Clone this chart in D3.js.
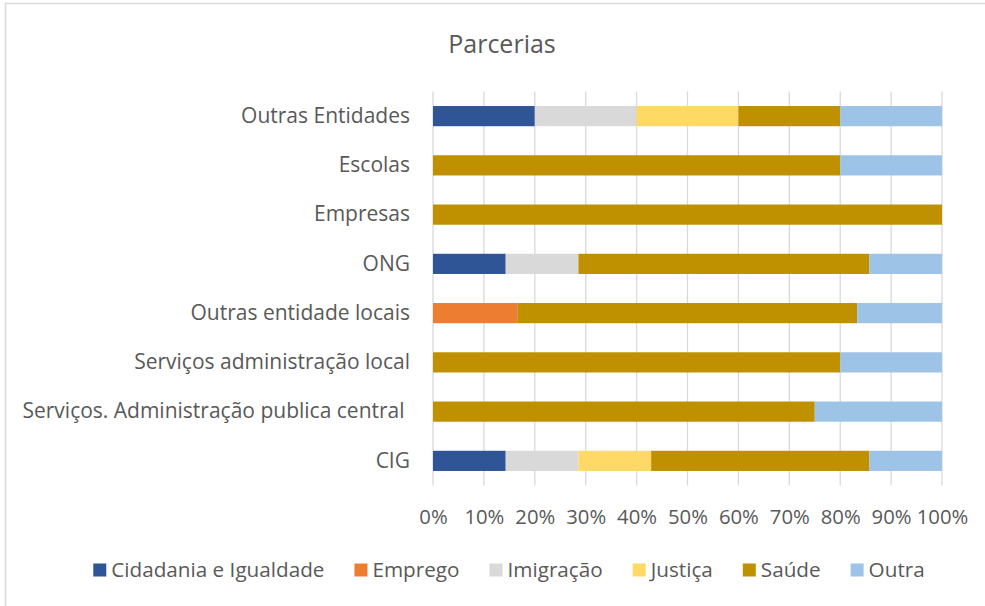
<!DOCTYPE html>
<html>
<head>
<meta charset="utf-8">
<script src="https://cdn.jsdelivr.net/npm/d3@7"></script>
<style>
  html, body { margin: 0; padding: 0; background: #fff; }
  svg { display: block; font-family: "Open Sans", Lato, sans-serif; }
  svg text { white-space: pre; }
</style>
</head>
<body>
<svg id="chart" width="985" height="606"></svg>
<script>
// Partnerships by type of entity, counted per area of intervention
const categories = [
  "CIG",
  "Serviços. Administração publica central ",
  "Serviços administração local",
  "Outras entidade locais",
  "ONG",
  "Empresas",
  "Escolas",
  "Outras Entidades"
];
const seriesNames = ["Cidadania e Igualdade", "Emprego", "Imigração", "Justiça", "Saúde", "Outra"];
const seriesColors = ["#2F5597", "#ED7D31", "#D9D9D9", "#FFD966", "#BF9000", "#9DC3E6"];

const cidadania = [1, 0, 0, 0, 1, 0, 0, 1];
const emprego   = [0, 0, 0, 1, 0, 0, 0, 0];
const imigracao = [1, 0, 0, 0, 1, 0, 0, 1];
const justica   = [1, 0, 0, 0, 0, 0, 0, 1];
const saude     = [3, 3, 4, 4, 4, 1, 4, 1];
const outra     = [1, 1, 1, 1, 1, 0, 1, 1];

const tickValues = [0, 0.1, 0.2, 0.3, 0.4, 0.5, 0.6, 0.7, 0.8, 0.9, 1];

const seriesValues = [cidadania, emprego, imigracao, justica, saude, outra];
const rows = categories.map((c, i) => {
  const r = { category: c };
  seriesNames.forEach((s, j) => { r[s] = seriesValues[j][i]; });
  return r;
});

const stacked = d3.stack()
  .keys(seriesNames)
  .offset(d3.stackOffsetExpand)(rows);

const svg = d3.select("#chart");
const textColor = "#595959";
const fontFamily = "'Open Sans', Lato, sans-serif";

// chart frame
svg.append("rect")
  .attr("x", 5.5).attr("y", 3.5)
  .attr("width", 990).attr("height", 610)
  .attr("fill", "none").attr("stroke", "#D9D9D9").attr("stroke-width", 1.5);

const plotLeft = 433, plotRight = 942, plotTop = 91.5, plotBottom = 485.5;

const x = d3.scaleLinear().domain([0, 1]).range([plotLeft, plotRight]);
const y = d3.scaleBand()
  .domain(categories.slice().reverse())
  .range([plotTop, plotBottom])
  .paddingInner(0.59).paddingOuter(0.295);

// title
svg.append("text")
  .attr("x", 502).attr("y", 53)
  .attr("text-anchor", "middle")
  .attr("font-size", 25).attr("fill", textColor)
  .text("Parcerias");

// vertical gridlines
svg.append("g")
  .selectAll("line")
  .data(tickValues)
  .join("line")
  .attr("x1", d => x(d)).attr("x2", d => x(d))
  .attr("y1", plotTop).attr("y2", plotBottom)
  .attr("stroke", "#D9D9D9").attr("stroke-width", 1.3);

// bars
svg.append("g")
  .selectAll("g")
  .data(stacked)
  .join("g")
  .attr("fill", (d, i) => seriesColors[i])
  .selectAll("rect")
  .data(d => d)
  .join("rect")
  .attr("x", d => x(d[0]))
  .attr("width", d => Math.max(0, x(d[1]) - x(d[0])))
  .attr("y", d => y(d.data.category))
  .attr("height", y.bandwidth());

// x axis labels
const xAxis = d3.axisBottom(x)
  .tickValues(tickValues)
  .tickFormat(d3.format(".0%"))
  .tickSize(0).tickPadding(0);
const gx = svg.append("g")
  .attr("transform", `translate(0, ${plotBottom + 24})`)
  .call(xAxis);
gx.select(".domain").remove();
gx.selectAll("text")
  .attr("font-family", fontFamily)
  .attr("font-size", 20.3).attr("fill", textColor);

// y axis labels
const yAxis = d3.axisLeft(y).tickSize(0).tickPadding(23);
const gy = svg.append("g")
  .attr("transform", `translate(${plotLeft}, 0)`)
  .call(yAxis);
gy.select(".domain").remove();
gy.selectAll("text")
  .attr("font-family", fontFamily)
  .attr("font-size", 21).attr("fill", textColor);

// legend: items laid out in a row, centred under the chart
const swatch = 13, swatchGap = 5, itemGap = 30, legendY = 570, legendCenter = 509;
const legend = svg.append("g");
const items = legend.selectAll("g")
  .data(seriesNames)
  .join("g");
items.append("rect")
  .attr("x", 0).attr("y", -swatch / 2)
  .attr("width", swatch).attr("height", swatch)
  .attr("fill", (d, i) => seriesColors[i]);
items.append("text")
  .attr("x", swatch + swatchGap).attr("y", 0)
  .attr("dy", "0.35em")
  .attr("font-size", 20.7).attr("fill", textColor)
  .text(d => d);
const widths = [];
items.each(function () {
  widths.push(swatch + swatchGap + d3.select(this).select("text").node().getComputedTextLength());
});
const totalWidth = d3.sum(widths) + itemGap * (widths.length - 1);
let cursor = legendCenter - totalWidth / 2;
items.attr("transform", (d, i) => {
  const tx = cursor;
  cursor += widths[i] + itemGap;
  return `translate(${tx}, ${legendY})`;
});
</script>
</body>
</html>
